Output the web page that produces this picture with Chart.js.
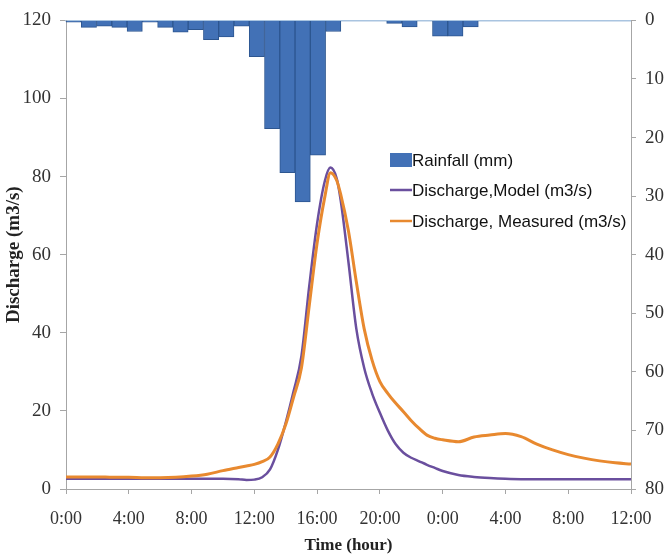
<!DOCTYPE html>
<html><head><meta charset="utf-8">
<script src="https://cdn.jsdelivr.net/npm/chart.js@4.4.1/dist/chart.umd.min.js"></script>
<style>html,body{margin:0;padding:0;background:#fff}</style>
</head><body>
<canvas id="c" width="670" height="559"></canvas>
<script>
// ---- data ----
const rainHours = [0,1,2,3,4,5,6,7,8,9,10,11,12,13,14,15,16,17,18,19,20,21,22,23,24,25,26,27,28,29,30,31,32,33,34,35,36];
const rainfall  = [0.3,1.2,1.0,1.2,1.9,0.3,1.2,2.0,1.6,3.3,2.8,1.0,6.2,18.5,26,31,23,1.9,0,0,0,0.5,1.1,0,2.7,2.7,1.1,0,0,0,0,0,0,0,0,0,0];
const timeHours = [0,1,2,3,4,5,6,7,8,9,10,11,11.5,12,12.5,13,13.5,14,14.5,15,15.5,16,16.5,16.85,17.25,17.5,18,18.5,19,19.5,20,20.5,21,21.5,22,22.5,23,23.5,24,25,26,27,28,29,30,31,32,33,34,35,36];
const dischargeModel    = [2.6,2.6,2.6,2.6,2.6,2.6,2.6,2.6,2.6,2.6,2.6,2.5,2.3,2.4,3.0,5.0,10,17,25,34,52,68,79,82.3,79.5,74,58,41,31,24.5,19.5,15,11.5,9.3,8.0,7.1,6.2,5.4,4.6,3.6,3.1,2.8,2.6,2.5,2.5,2.5,2.5,2.5,2.5,2.5,2.5];
const dischargeMeasured = [3.1,3.1,3.1,3.0,3.0,2.9,2.9,3.0,3.3,3.8,4.7,5.5,5.9,6.3,7.0,8.2,11.5,16.5,23.5,31,47,63,75,81,79,75.5,66,53,41,33,27.5,24.5,22,19.8,17.5,15.5,13.8,13.0,12.6,12.1,13.3,13.8,14.2,13.4,11.5,10,8.8,7.9,7.2,6.7,6.4];
const xTickHours  = [0,4,8,12,16,20,24,28,32,36];
const xTickLabels = ["0:00","4:00","8:00","12:00","16:00","20:00","0:00","4:00","8:00","12:00"];
const seriesNames = ["Rainfall (mm)","Discharge,Model (m3/s)","Discharge, Measured (m3/s)"];

const serif = "'Liberation Serif', 'Times New Roman', serif";
const sans = "'Liberation Sans', Arial, sans-serif";
const axisGrey = '#A6A6A6';
const tickColor = '#333333';

const legendPlugin = {
  id: 'insideLegend',
  afterDatasetsDraw(chart) {
    const ctx = chart.ctx;
    const ds = chart.data.datasets;
    const x0 = 390, rows = [160, 190, 221];
    ctx.save();
    ctx.font = "17px " + sans;
    ctx.textBaseline = 'middle';
    ds.forEach((d, i) => {
      const y = rows[i];
      if (d.type === 'bar') {
        ctx.fillStyle = d.backgroundColor;
        ctx.fillRect(x0, y - 7, 22, 14);
      } else {
        ctx.strokeStyle = d.borderColor;
        ctx.lineWidth = 2.5;
        ctx.beginPath(); ctx.moveTo(x0, y); ctx.lineTo(x0 + 22, y); ctx.stroke();
      }
      ctx.fillStyle = '#111';
      ctx.fillText(d.label, x0 + 22, y + 1);
    });
    ctx.restore();
  }
};

new Chart(document.getElementById('c'), {
  data: {
    datasets: [
      { type: 'bar', label: seriesNames[0], data: rainfall, xAxisID: 'x2', yAxisID: 'yR',
        backgroundColor: '#4271B6', borderColor: '#2D5690', borderWidth: 1,
        barPercentage: 1, categoryPercentage: 1, grouped: false, order: 3 },
      { type: 'line', label: seriesNames[1], xAxisID: 'x', yAxisID: 'y',
        data: timeHours.map((t, i) => ({x: t, y: dischargeModel[i]})),
        borderColor: '#6A4F9E', borderWidth: 2.5, pointRadius: 0, cubicInterpolationMode: 'monotone', order: 2 },
      { type: 'line', label: seriesNames[2], xAxisID: 'x', yAxisID: 'y',
        data: timeHours.map((t, i) => ({x: t, y: dischargeMeasured[i]})),
        borderColor: '#E8892F', borderWidth: 3, pointRadius: 0, cubicInterpolationMode: 'monotone', order: 1 }
    ]
  },
  options: {
    responsive: false, animation: false, devicePixelRatio: 1,
    layout: { padding: 0 },
    plugins: { legend: { display: false }, tooltip: { enabled: false } },
    scales: {
      x: {
        type: 'linear', position: 'bottom', min: 0, max: 36, offset: false,
        afterBuildTicks: s => { s.ticks = xTickHours.map(v => ({value: v})); },
        ticks: { callback: (v, i) => xTickLabels[i], font: {family: serif, size: 18}, color: tickColor,
                 padding: 14, maxRotation: 0, autoSkip: false },
        grid: { drawOnChartArea: false, tickLength: 5, color: axisGrey },
        border: { color: axisGrey },
        title: { display: true, text: 'Time (hour)', font: {family: serif, size: 17, weight: 'bold'},
                 color: '#222', padding: {top: 0, bottom: 3} },
        afterFit: s => { s.height = 70; }
      },
      x2: {
        type: 'category', labels: rainHours.map(String), position: 'top', offset: true,
        ticks: { display: false, autoSkip: false },
        grid: { display: false, drawTicks: false, offset: true },
        border: { display: true, color: '#A9C4E0', width: 1.5 },
        afterFit: s => { s.height = 18; }
      },
      y: {
        position: 'left', min: 0, max: 120,
        ticks: { stepSize: 20, font: {family: serif, size: 19}, color: tickColor, padding: 9 },
        grid: { drawOnChartArea: false, tickLength: 6, color: axisGrey },
        border: { color: axisGrey },
        title: { display: true, text: 'Discharge (m3/s)', font: {family: serif, size: 19, weight: 'bold'},
                 color: '#222', padding: {top: 3, bottom: 0} },
        afterFit: s => { s.width = 66; }
      },
      yR: {
        position: 'right', reverse: true, min: 0, max: 80,
        ticks: { stepSize: 10, font: {family: serif, size: 19}, color: tickColor, padding: 9 },
        grid: { drawOnChartArea: false, tickLength: 5, color: axisGrey },
        border: { color: axisGrey },
        afterFit: s => { s.width = 39; }
      }
    }
  },
  plugins: [legendPlugin]
});
</script>
</body></html>
